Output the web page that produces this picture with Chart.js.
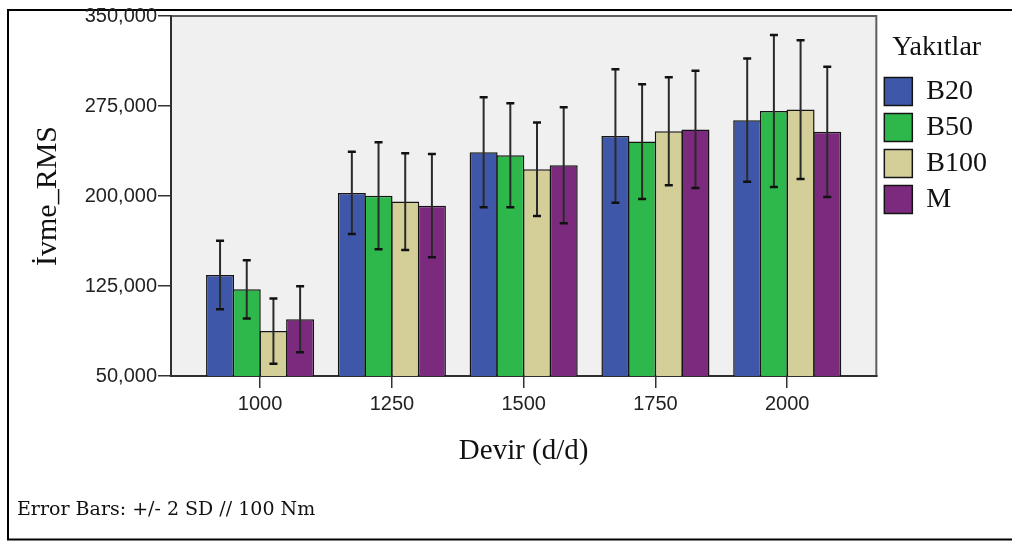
<!DOCTYPE html>
<html>
<head>
<meta charset="utf-8">
<script src="https://cdn.jsdelivr.net/npm/chart.js@4/dist/chart.umd.min.js"></script>
<style>
  html, body { margin: 0; padding: 0; background: #fff; }
  #wrap { width: 1012px; height: 541px; position: relative; }
</style>
</head>
<body>
<div id="wrap"><canvas id="c"></canvas></div>
<script>
// Engine speed groups (d/d)
const categories = [1000, 1250, 1500, 1750, 2000];
const seriesNames = ['B20', 'B50', 'B100', 'M'];

// Mean RMS acceleration per fuel
const b20  = [134200, 202600, 236400, 250000, 263200];
const b50  = [122200, 200200, 234000, 245400, 270800];
const b100 = [87400, 195400, 222300, 254000, 272000];
const mFuel = [97300, 191900, 225600, 255500, 253500];

// +/- 2 SD half-widths
const b20Err  = [28600, 34200, 45800, 55700, 51400];
const b50Err  = [24300, 44600, 43300, 47800, 63300];
const b100Err = [27100, 40300, 38900, 45000, 57800];
const mErr    = [27500, 43000, 48300, 48800, 54300];

const yTicks = [50000, 125000, 200000, 275000, 350000];

const seriesValues = [b20, b50, b100, mFuel];
const seriesErrors = [b20Err, b50Err, b100Err, mErr];
const seriesColors = ['#3e57a9', '#2eb84b', '#d4cf98', '#7c2a7d'];

const datasets = seriesNames.map((name, s) => ({
  label: name,
  data: categories.map((c, i) => ({ x: c, y: seriesValues[s][i] })),
  errors: seriesErrors[s],
  backgroundColor: seriesColors[s],
  borderColor: '#141414',
  borderWidth: 1.5,
  borderSkipped: false,
  inflateAmount: 0,
  categoryPercentage: 0.81,
  barPercentage: 1.05
}));

const frameAndPlot = {
  id: 'frameAndPlot',
  beforeDraw(chart) {
    const { ctx, chartArea: a } = chart;
    ctx.save();
    ctx.fillStyle = '#ffffff';
    ctx.fillRect(0, 0, chart.width, chart.height);
    // outer frame
    ctx.strokeStyle = '#000';
    ctx.lineWidth = 2;
    ctx.strokeRect(8, 10, 1010, 529.5);
    // plot background and border
    ctx.fillStyle = '#f0f0f0';
    ctx.fillRect(a.left, a.top, a.right - a.left, a.bottom - a.top);
    ctx.strokeStyle = '#5e5e5e';
    ctx.lineWidth = 2;
    ctx.strokeRect(a.left, a.top, a.right - a.left, a.bottom - a.top);
    ctx.restore();
  }
};

const errorBars = {
  id: 'errorBars',
  afterDatasetsDraw(chart) {
    const { ctx } = chart;
    const yScale = chart.scales.y;
    ctx.save();
    chart.data.datasets.forEach((ds, di) => {
      const meta = chart.getDatasetMeta(di);
      meta.data.forEach((bar, i) => {
        const v = ds.data[i].y;
        const e = ds.errors[i];
        const yt = yScale.getPixelForValue(v + e);
        const yb = yScale.getPixelForValue(v - e);
        const x = bar.x;
        ctx.strokeStyle = '#2a2a2a';
        ctx.lineWidth = 2;
        ctx.beginPath();
        ctx.moveTo(x, yt);
        ctx.lineTo(x, yb);
        ctx.stroke();
        ctx.strokeStyle = '#111';
        ctx.lineWidth = 2.5;
        ctx.beginPath();
        ctx.moveTo(x - 4, yt); ctx.lineTo(x + 4, yt);
        ctx.moveTo(x - 4, yb); ctx.lineTo(x + 4, yb);
        ctx.stroke();
      });
    });
    ctx.restore();
  }
};

new Chart(document.getElementById('c'), {
  type: 'bar',
  data: { datasets },
  plugins: [frameAndPlot, errorBars],
  options: {
    responsive: true,
    maintainAspectRatio: false,
    animation: false,
    layout: { padding: { top: 16, left: 17, right: 15, bottom: 10 } },
    scales: {
      x: {
        type: 'linear',
        min: 831,
        max: 2169,
        offset: false,
        afterBuildTicks(scale) { scale.ticks = categories.map(v => ({ value: v })); },
        afterFit(scale) { scale.height = 122.2; },
        grid: {
          offset: false,
          drawOnChartArea: false,
          drawTicks: true,
          tickLength: 12,
          color: '#333',
          lineWidth: 1.5
        },
        border: { display: true, color: '#2e2e2e', width: 2 },
        ticks: {
          padding: 4,
          color: '#222',
          font: { family: "'Liberation Sans', Arial, sans-serif", size: 20 },
          callback: v => String(v)
        },
        title: {
          display: true,
          text: 'Devir (d/d)',
          color: '#111',
          font: { family: "'Liberation Serif', serif", size: 29 },
          padding: { top: 0, bottom: 29 }
        }
      },
      y: {
        min: 50000,
        max: 350000,
        afterBuildTicks(scale) { scale.ticks = yTicks.map(v => ({ value: v })); },
        afterFit(scale) { scale.width = 154; },
        grid: {
          drawOnChartArea: false,
          drawTicks: true,
          tickLength: 13,
          color: '#333',
          lineWidth: 1.5
        },
        border: { display: true, color: '#2e2e2e', width: 2 },
        ticks: {
          padding: 1,
          color: '#222',
          font: { family: "'Liberation Sans', Arial, sans-serif", size: 20 },
          callback: v => Number(v).toLocaleString('en-US')
        },
        title: {
          display: true,
          text: 'İvme_RMS',
          color: '#111',
          font: { family: "'Liberation Serif', serif", size: 30 },
          padding: { top: 13, bottom: 0 }
        }
      }
    },
    plugins: {
      tooltip: { enabled: false },
      legend: {
        position: 'right',
        align: 'start',
        labels: {
          boxWidth: 28,
          boxHeight: 28,
          padding: 8,
          color: '#111',
          font: { family: "'Liberation Serif', serif", size: 28 }
        },
        title: {
          display: true,
          text: 'Yakıtlar',
          position: 'center',
          color: '#111',
          font: { family: "'Liberation Serif', serif", size: 28 },
          padding: { top: 18, bottom: 2 }
        }
      },
      title: {
        display: true,
        position: 'bottom',
        align: 'start',
        text: 'Error Bars: +/- 2 SD // 100 Nm',
        color: '#111',
        font: { family: "'DejaVu Serif', serif", size: 19, weight: 'normal' },
        padding: { top: 0, bottom: 10 }
      }
    }
  }
});
</script>
</body>
</html>
